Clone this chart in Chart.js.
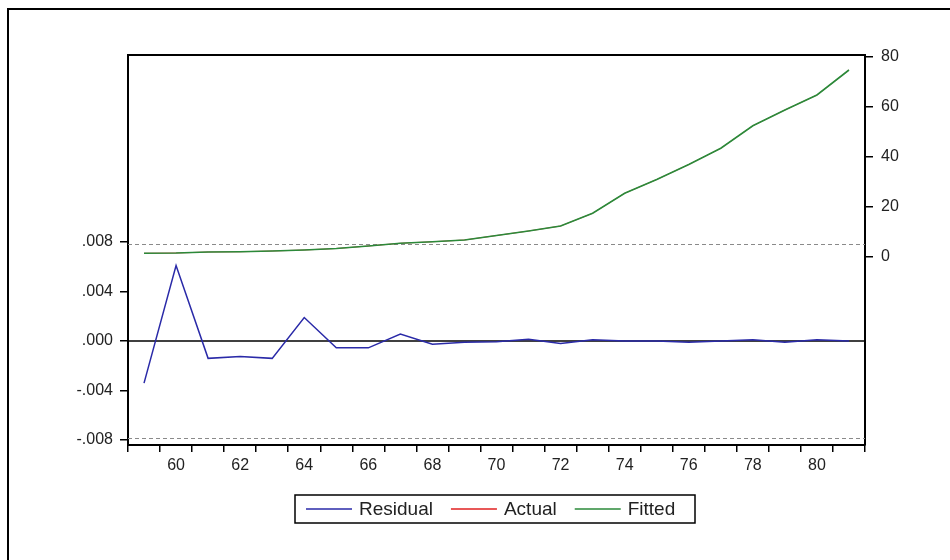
<!DOCTYPE html>
<html lang="en">
<head>
  <meta charset="UTF-8">
  <title>Residual / Actual / Fitted</title>
  <script src="https://cdn.jsdelivr.net/npm/chart.js"></script>
  <style>
    html, body { margin: 0; padding: 0; background: #ffffff; }
    #wrap { width: 950px; height: 560px; position: relative; }
  </style>
</head>
<body>
  <div id="wrap"><canvas id="chart" width="950" height="560"></canvas></div>

  <script>
    // years 1959..1981
    const years = ['1959', '1960', '1961', '1962', '1963', '1964', '1965', '1966', '1967', '1968', '1969', '1970',
                   '1971', '1972', '1973', '1974', '1975', '1976', '1977', '1978', '1979', '1980', '1981'];

    const residual = [-0.0034, 0.0061, -0.0014, -0.00125, -0.0014, 0.0019, -0.00055, -0.00055, 0.00057, -0.00025,
                      -0.0001, -0.00005, 0.00015, -0.0002, 0.0001, 0.0, 0.0, -0.0001, 0.0, 0.0001, -0.0001, 0.0001, 0.0];
    const actual   = [1.5, 1.6, 2.0, 2.1, 2.4, 2.8, 3.4, 4.4, 5.5, 6.1, 6.8, 8.6,
                      10.4, 12.4, 17.5, 25.5, 31.0, 37.0, 43.5, 52.5, 58.8, 64.8, 74.8];
    const fitted   = [1.5, 1.6, 2.0, 2.1, 2.4, 2.8, 3.4, 4.4, 5.5, 6.1, 6.8, 8.6,
                      10.4, 12.4, 17.5, 25.5, 31.0, 37.0, 43.5, 52.5, 58.8, 64.8, 74.8];

    const residualTicks = [-0.008, -0.004, 0, 0.004, 0.008];
    const levelTicks = [0, 20, 40, 60, 80];
    const stdBand = [0.00785, -0.00785];   // +/- 1 S.E. of residuals

    const FONT = 'Liberation Sans, Arial, sans-serif';

    // frame, top border of plot, zero line and S.E. lines
    const framePlugin = {
      id: 'frame',
      beforeDraw(chart) {
        const ctx = chart.ctx;
        ctx.save();
        ctx.fillStyle = '#ffffff';
        ctx.fillRect(0, 0, chart.width, chart.height);
        ctx.strokeStyle = '#000';
        ctx.lineWidth = 2;
        ctx.beginPath();
        ctx.moveTo(8, chart.height);
        ctx.lineTo(8, 9);
        ctx.lineTo(chart.width, 9);
        ctx.stroke();
        ctx.restore();
      },
      beforeDatasetsDraw(chart) {
        const { ctx, chartArea: a } = chart;
        const yL = chart.scales.yL;
        ctx.save();
        // dashed S.E. lines
        ctx.strokeStyle = '#8a8a8a';
        ctx.lineWidth = 1;
        ctx.setLineDash([4, 3]);
        stdBand.forEach(v => {
          const y = Math.round(yL.getPixelForValue(v)) + 0.5;
          ctx.beginPath();
          ctx.moveTo(a.left, y);
          ctx.lineTo(a.right, y);
          ctx.stroke();
        });
        // zero line
        ctx.setLineDash([]);
        ctx.strokeStyle = '#000';
        ctx.lineWidth = 1.5;
        const y0 = yL.getPixelForValue(0);
        ctx.beginPath();
        ctx.moveTo(a.left, y0);
        ctx.lineTo(a.right, y0);
        ctx.stroke();
        ctx.restore();
      },
      afterDraw(chart) {
        const { ctx, chartArea: a } = chart;
        ctx.save();
        ctx.strokeStyle = '#000';
        ctx.lineWidth = 2;
        ctx.beginPath();
        ctx.moveTo(a.left, a.top);
        ctx.lineTo(a.right, a.top);
        ctx.stroke();

        // legend box
        const bx = 295, by = 495, bw = 400, bh = 28;
        ctx.lineWidth = 1.5;
        ctx.strokeRect(bx, by, bw, bh);
        ctx.font = '19px ' + FONT;
        ctx.textBaseline = 'middle';
        ctx.fillStyle = '#222';
        let x = bx + 11;
        const ly = by + bh / 2;
        chart.data.datasets.forEach(ds => {
          ctx.strokeStyle = ds.borderColor;
          ctx.lineWidth = 1.5;
          ctx.beginPath();
          ctx.moveTo(x, ly);
          ctx.lineTo(x + 46, ly);
          ctx.stroke();
          x += 53;
          ctx.fillText(ds.label, x, ly + 1);
          x += ctx.measureText(ds.label).width + 18;
        });
        ctx.restore();
      }
    };

    new Chart(document.getElementById('chart'), {
      type: 'line',
      data: {
        labels: years,
        datasets: [
          { label: 'Residual', data: residual, yAxisID: 'yL', borderColor: '#2a2aa8', borderWidth: 1.5, order: 1 },
          { label: 'Actual', data: actual, yAxisID: 'yR', borderColor: '#e02020', borderWidth: 0.8, order: 2 },
          { label: 'Fitted', data: fitted, yAxisID: 'yR', borderColor: '#2b8a3a', borderWidth: 1.6, order: 0 }
        ]
      },
      options: {
        responsive: false,
        animation: false,
        elements: { point: { radius: 0 }, line: { tension: 0 } },
        layout: { padding: { left: 0, right: 0, top: 55, bottom: 75 } },
        plugins: { legend: { display: false }, tooltip: { enabled: false } },
        scales: {
          x: {
            type: 'category',
            offset: true,
            grid: { offset: true, drawOnChartArea: false, drawTicks: true, tickLength: 7, color: '#000', lineWidth: 1.5 },
            border: { color: '#000', width: 2 },
            ticks: {
              autoSkip: false, maxRotation: 0, padding: 4,
              color: '#222', font: { family: FONT, size: 16 },
              callback(v, i) { const y = +years[i]; return y % 2 === 0 ? String(y).slice(2) : ''; }
            },
            afterFit(s) { s.height = 40; }
          },
          yL: {
            position: 'left',
            min: -0.0084, max: 0.02311,
            grid: { drawOnChartArea: false, tickLength: 8, color: '#000', lineWidth: 1.5 },
            border: { color: '#000', width: 2 },
            afterBuildTicks(s) { s.ticks = residualTicks.map(v => ({ value: v })); },
            ticks: {
              padding: 7, color: '#222', font: { family: FONT, size: 16 },
              callback(v) { return (v < 0 ? '-' : '') + Math.abs(v).toFixed(3).replace(/^0/, ''); }
            },
            afterFit(s) { s.width = 128; }
          },
          yR: {
            position: 'right',
            min: -75.2, max: 80.8,
            grid: { drawOnChartArea: false, tickLength: 8, color: '#000', lineWidth: 1.5 },
            border: { color: '#000', width: 2 },
            afterBuildTicks(s) { s.ticks = levelTicks.map(v => ({ value: v })); },
            ticks: { padding: 8, color: '#222', font: { family: FONT, size: 16 } },
            afterFit(s) { s.width = 85; }
          }
        }
      },
      plugins: [framePlugin]
    });
  </script>
</body>
</html>
